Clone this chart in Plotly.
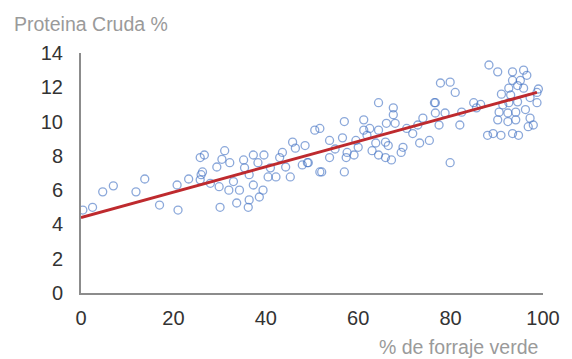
import plotly.graph_objects as go

# % de forraje verde (x) and Proteina Cruda % (y)
forraje = [0.4, 2.5, 4.7, 7.0, 11.9, 13.8, 17.0, 21.0, 20.8, 23.3, 25.8, 26.0,
           26.7, 31.1, 26.3, 29.4, 32.2, 35.2, 37.3, 39.6, 38.3, 35.4, 36.4, 25.8,
           29.9, 32.0, 34.3, 37.3, 39.4, 40.5, 42.2, 38.6, 36.4, 33.7, 36.2, 30.1,
           43.6, 45.8, 46.4, 45.3, 44.3, 47.9, 50.6, 51.7, 52.1, 49.0, 49.2,
           53.8, 57.0, 56.6, 53.8, 57.6, 59.1, 57.4, 51.7, 57.0, 61.2, 61.2, 61.9,
           64.4, 67.6, 67.6, 66.1, 64.4, 68.0, 63.8, 65.9, 66.5, 64.4, 65.9, 67.2,
           69.7, 69.3, 71.8, 72.9, 73.3, 75.4, 76.5, 76.7, 77.8,
           79.9, 81.0, 76.7, 78.8, 77.5, 82.0, 82.4, 85.0, 85.6, 79.9,
           88.3, 90.2, 93.4, 95.8, 93.4, 95.1, 94.5, 92.6, 95.8, 93.0, 97.2, 98.7,
           91.3, 92.6, 94.5, 98.7, 90.5, 92.4, 94.1, 96.2, 90.2, 92.4, 94.1, 97.2,
           96.8, 97.9, 89.2, 90.9, 93.4, 94.7, 60.0, 62.5, 55.0, 48.5, 41.0, 33.0,
           28.0, 30.5, 43.0, 70.5, 74.0, 86.5, 88.0, 91.0, 96.5, 99.0, 59.5, 63.0]
proteina = [4.84, 5.0, 5.9, 6.25, 5.9, 6.65, 5.13, 4.84, 6.3, 6.65, 7.9, 6.9,
            8.05, 8.3, 7.06, 7.35, 7.6, 7.76, 8.05, 8.05, 7.6, 7.3, 6.9, 6.6,
            6.2, 6.0, 6.0, 6.3, 6.0, 6.77, 6.77, 5.6, 5.43, 5.25, 5.0, 5.0,
            8.2, 8.8, 8.45, 6.77, 7.35, 7.47, 9.5, 9.6, 7.06, 7.6, 7.6,
            8.9, 10.0, 9.05, 7.9, 8.2, 8.05, 7.9, 7.06, 7.06, 10.1, 9.5, 9.2,
            11.1, 10.8, 10.4, 9.9, 9.5, 9.9, 8.75, 8.8, 8.6, 8.05, 7.9, 7.76,
            8.5, 8.2, 9.3, 9.8, 8.75, 8.9, 11.1, 10.5, 12.25,
            12.3, 11.7, 11.1, 10.5, 9.8, 9.8, 10.55, 11.1, 10.8, 7.6,
            13.3, 12.9, 12.9, 13.0, 12.4, 12.4, 12.1, 11.95, 11.95, 11.55, 11.4, 11.7,
            10.97, 11.1, 11.15, 11.1, 10.55, 10.5, 10.55, 10.7, 10.1, 10.0, 10.1, 10.2,
            9.7, 9.8, 9.3, 9.2, 9.3, 9.2, 8.5, 9.6, 8.4, 8.6, 7.3, 6.5,
            6.4, 7.8, 7.9, 9.6, 10.2, 11.0, 9.2, 11.6, 12.7, 11.9, 8.9, 8.3]

# linear trend line (intercept, slope)
trend_intercept = 4.4
trend_slope = 0.074
trend_x = [0, 98.7]
trend_y = [trend_intercept + trend_slope * v for v in trend_x]

x_ticks = [0, 20, 40, 60, 80, 100]
y_ticks = [0, 2, 4, 6, 8, 10, 12, 14]

FONT = "Liberation Sans, Arial, sans-serif"

fig = go.Figure()
fig.add_trace(go.Scatter(
    x=forraje, y=proteina, mode="markers",
    marker=dict(symbol="circle-open", size=8, color="rgba(68,114,196,0.62)",
                line=dict(width=1.3)),
    showlegend=False, hoverinfo="skip"))
fig.add_trace(go.Scatter(
    x=trend_x, y=trend_y, mode="lines",
    line=dict(color="#BE2A2E", width=3), showlegend=False, hoverinfo="skip"))

# the page body has an 8px margin, so the figure is 8px smaller on each side
fig.update_layout(
    width=564, height=351,
    margin=dict(l=73, r=19, t=45, b=66),
    paper_bgcolor="white", plot_bgcolor="white",
    font=dict(family=FONT, size=20, color="#333333"),
    xaxis=dict(range=[0, 100], tickvals=x_ticks, showgrid=False, zeroline=False,
               showline=True, linecolor="#8c8c8c", linewidth=2, ticks="",
               ticklabelstandoff=6, fixedrange=True),
    yaxis=dict(range=[0, 14], tickvals=y_ticks, showgrid=False, zeroline=False,
               showline=True, linecolor="#8c8c8c", linewidth=2, ticks="",
               ticklabelstandoff=12, fixedrange=True),
    annotations=[
        dict(text="Proteina Cruda %", xref="paper", yref="paper",
             x=-0.150, y=1.121, xanchor="left", yanchor="middle", showarrow=False,
             font=dict(family=FONT, size=19.5, color="#9a9a9a")),
        dict(text="% de forraje verde", xref="paper", yref="paper",
             x=0.818, y=-0.225, xanchor="center", yanchor="middle", showarrow=False,
             font=dict(family=FONT, size=19.5, color="#9a9a9a")),
    ],
)

fig.write_html("out.html")
